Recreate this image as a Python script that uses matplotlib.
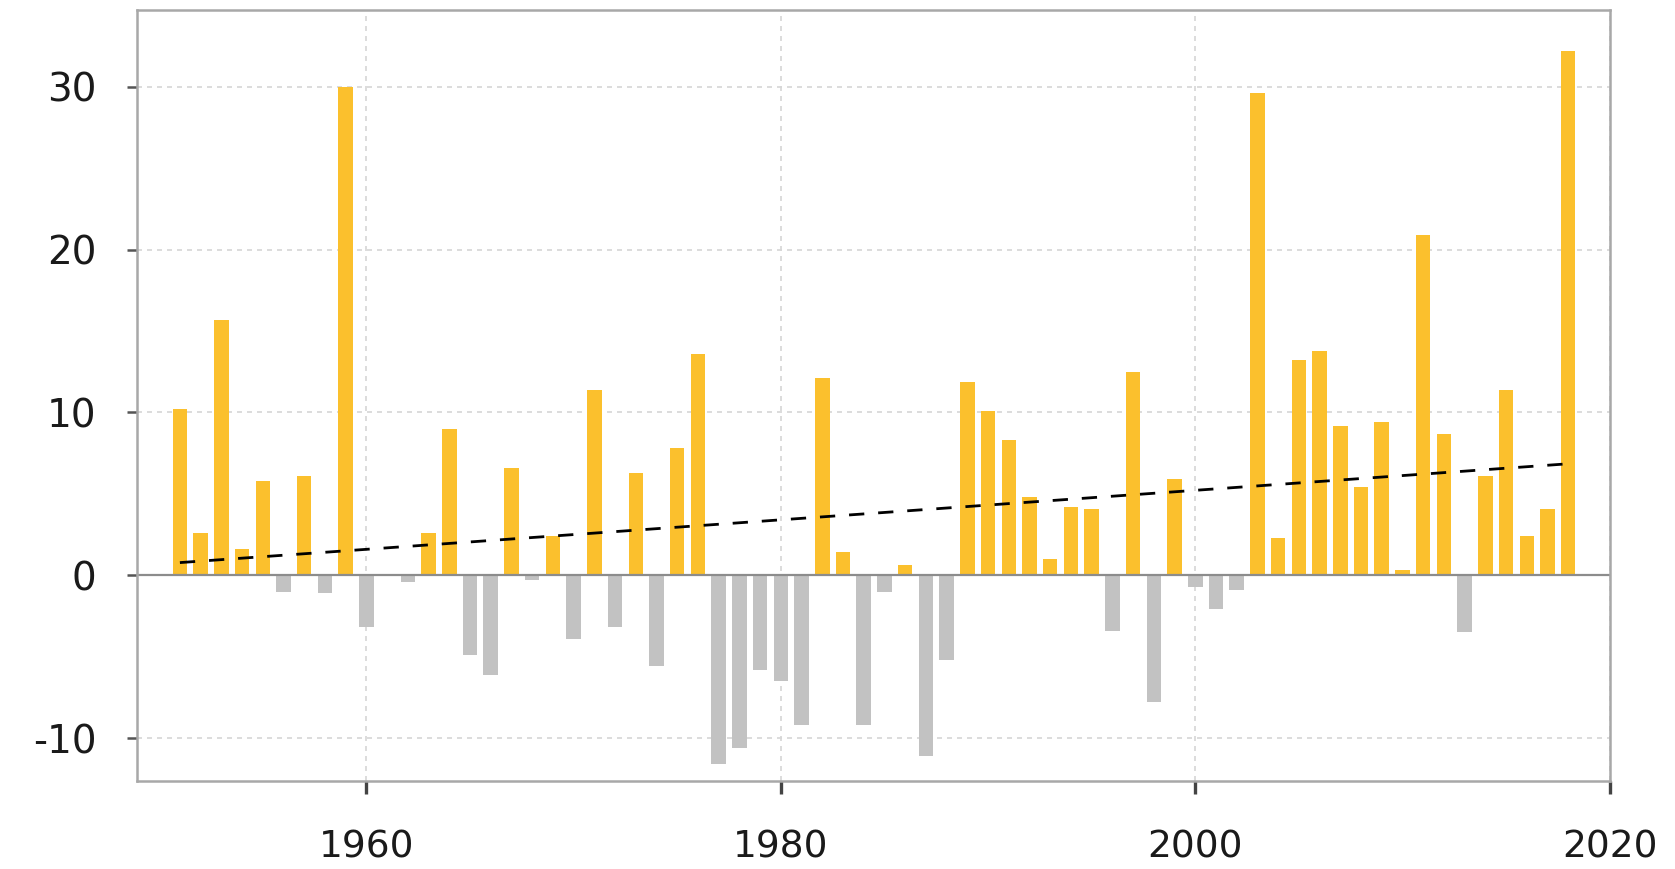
import numpy as np
import matplotlib.pyplot as plt

# Yearly anomaly values, 1951-2018
years = np.arange(1951, 2019)
values = [
    10.2, 2.6, 15.7, 1.6, 5.8, -1.0, 6.1, -1.1, 30.0, -3.2,   # 1951-1960
    0.0, -0.4, 2.6, 9.0, -4.9, -6.1, 6.6, -0.3, 2.4, -3.9,    # 1961-1970
    11.4, -3.2, 6.3, -5.6, 7.8, 13.6, -11.6, -10.6, -5.8, -6.5,  # 1971-1980
    -9.2, 12.1, 1.4, -9.2, -1.0, 0.6, -11.1, -5.2, 11.9, 10.1,  # 1981-1990
    8.3, 4.8, 1.0, 4.2, 4.1, -3.4, 12.5, -7.8, 5.9, -0.7,     # 1991-2000
    -2.1, -0.9, 29.6, 2.3, 13.2, 13.8, 9.2, 5.4, 9.4, 0.3,    # 2001-2010
    20.9, 8.7, -3.5, 6.1, 11.4, 2.4, 4.1, 32.2,               # 2011-2018
]
values = np.array(values)

y_ticks = [-10, 0, 10, 20, 30]
y_labels = ['-10', '0', '10', '20', '30']
x_ticks = [1960, 1980, 2000, 2020]

pos_color = '#FBC02D'
neg_color = '#C2C2C2'

fig = plt.figure(figsize=(16.75, 8.69), dpi=100, facecolor='white')
ax = fig.add_axes([0.0818, 0.1013, 0.961 - 0.0818, 0.9885 - 0.1013])

colors = [pos_color if v >= 0 else neg_color for v in values]
ax.bar(years, values, width=0.7, color=colors, zorder=2)

# linear trend
slope, intercept = np.polyfit(years, values, 1)
ax.plot(years, slope * years + intercept, color='black', lw=2.0,
        dashes=(5.5, 5), zorder=3)

ax.axhline(0, color='#8c8c8c', lw=1.6, zorder=2.5)

ax.set_xlim(1948.93, 2020)
ax.set_ylim(-12.64, 34.73)
ax.set_xticks(x_ticks)
ax.set_yticks(y_ticks)
ax.set_yticklabels(y_labels)

ax.grid(True, linestyle=(0, (3, 3)), color='#d6d6d6', lw=1.2, zorder=0)
ax.set_axisbelow(True)

for s in ax.spines.values():
    s.set_color('#a8a8a8')
    s.set_linewidth(1.8)

ax.tick_params(axis='x', direction='out', length=9, width=2.4,
               color='#444444', pad=26, labelsize=27, labelcolor='#1a1a1a')
ax.tick_params(axis='y', direction='out', length=7, width=1.8,
               color='#555555', pad=22, labelsize=28, labelcolor='#1a1a1a')

plt.savefig('out.png', dpi=100, facecolor='white')
